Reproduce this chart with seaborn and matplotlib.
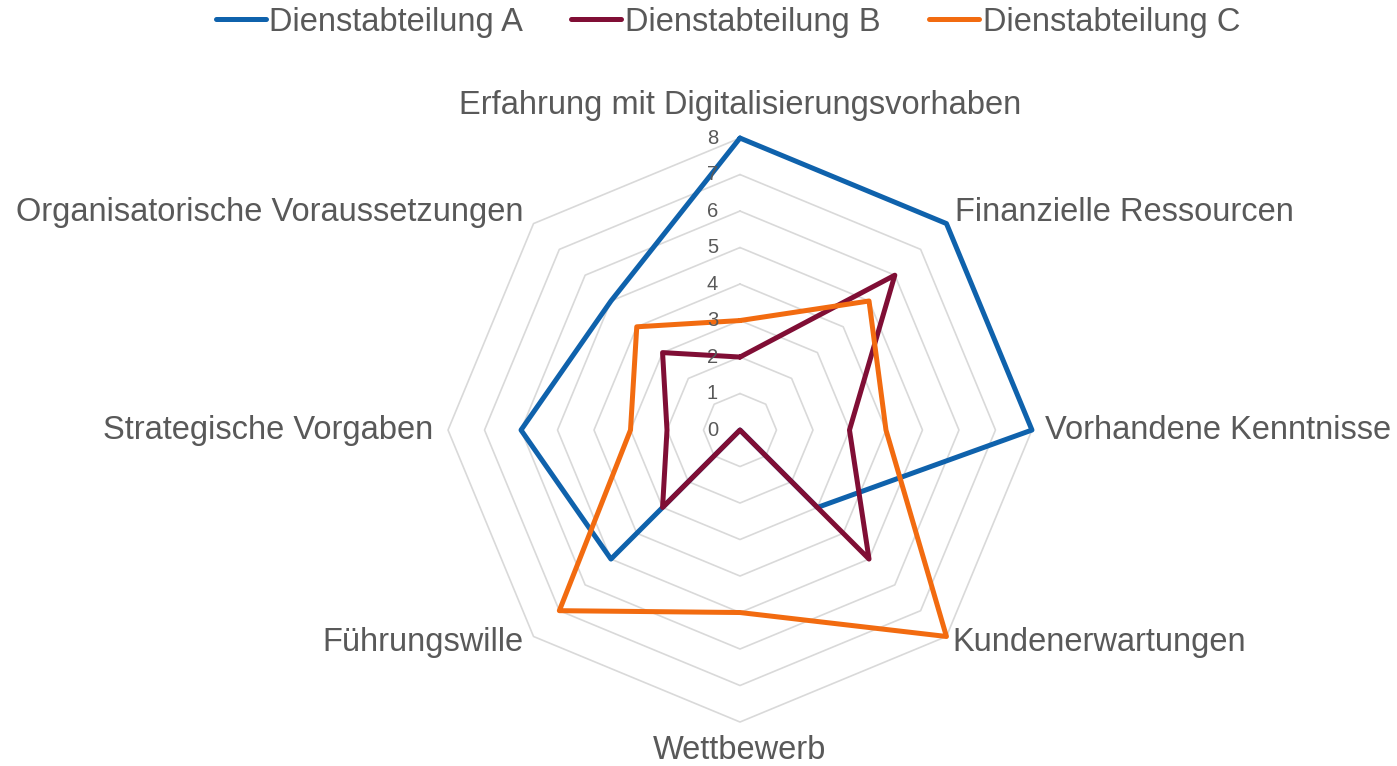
import numpy as np
import pandas as pd
import matplotlib.pyplot as plt
import seaborn as sns
from matplotlib.lines import Line2D

# Daten
kategorien = ['Erfahrung mit Digitalisierungsvorhaben', 'Finanzielle Ressourcen',
              'Vorhandene Kenntnisse', 'Kundenerwartungen', 'Wettbewerb',
              'Führungswille', 'Strategische Vorgaben', 'Organisatorische Voraussetzungen']
abteilung_a = [8, 8, 8, 3, 0, 5, 6, 5]
abteilung_b = [2, 6, 3, 5, 0, 3, 2, 3]
abteilung_c = [3, 5, 4, 8, 5, 7, 3, 4]
serien = ['Dienstabteilung A', 'Dienstabteilung B', 'Dienstabteilung C']
stufen = list(range(9))

farben = ['#0F62AC', '#800E35', '#F26B10']
grau = '#595959'

#%%
winkel = np.linspace(0, 2 * np.pi, len(kategorien), endpoint=False)
winkel_zu = np.append(winkel, 2 * np.pi)

rows = []
for name, werte in zip(serien, [abteilung_a, abteilung_b, abteilung_c]):
    for t, w in zip(winkel_zu, werte + werte[:1]):
        rows.append({'serie': name, 'theta': t, 'wert': w})
df = pd.DataFrame(rows)

#%%
sns.set_theme(style='white')
plt.rcParams['font.family'] = ['Liberation Sans', 'DejaVu Sans']

fig = plt.figure(figsize=(13.97, 7.66), dpi=100)
ax = fig.add_axes([0.3207, 0.0574, 0.418, 0.7624], projection='polar')
ax.set_theta_zero_location('N')
ax.set_theta_direction(-1)

# Achteck-Gitter
for s in stufen[1:]:
    ax.plot(winkel_zu, [s] * len(winkel_zu), color='#D9D9D9', lw=1.2, zorder=0)

sns.lineplot(data=df, x='theta', y='wert', hue='serie', palette=farben,
             sort=False, estimator=None, lw=3.6, ax=ax, legend=False)

for line in ax.lines:
    line.set_clip_on(False)

ax.set_ylim(0, 8)
ax.grid(False)
ax.set_xticks([])
ax.set_yticks([])
ax.spines['polar'].set_visible(False)
ax.set_xlabel('')
ax.set_ylabel('')

# Skala
for s in stufen:
    ax.annotate(str(s), (0, s), xytext=(-22, 0), textcoords='offset pixels',
                ha='right', va='center', fontsize=14.5, color=grau)

# Kategorien
versatz = [(0, 33, 'center'), (9, 11, 'left'), (13, 0, 'left'), (6, -6, 'left'),
           (0, -28, 'center'), (-10, -6, 'right'), (-15, 0, 'right'), (-10, 11, 'right')]
for t, name, (dx, dy, ha) in zip(winkel, kategorien, versatz):
    ax.annotate(name, (t, 8), xytext=(dx, dy), textcoords='offset pixels',
                ha=ha, va='center', fontsize=23.5, color=grau, annotation_clip=False)

handles = [Line2D([0], [0], color=c, lw=3.6) for c in farben]
fig.legend(handles, serien, loc='center', bbox_to_anchor=(0.521, 0.971), ncol=3,
           frameon=False, fontsize=23.5, handlelength=1.53, handletextpad=0.12,
           columnspacing=1.47, labelcolor=grau)

plt.savefig('out.png', dpi=100)
